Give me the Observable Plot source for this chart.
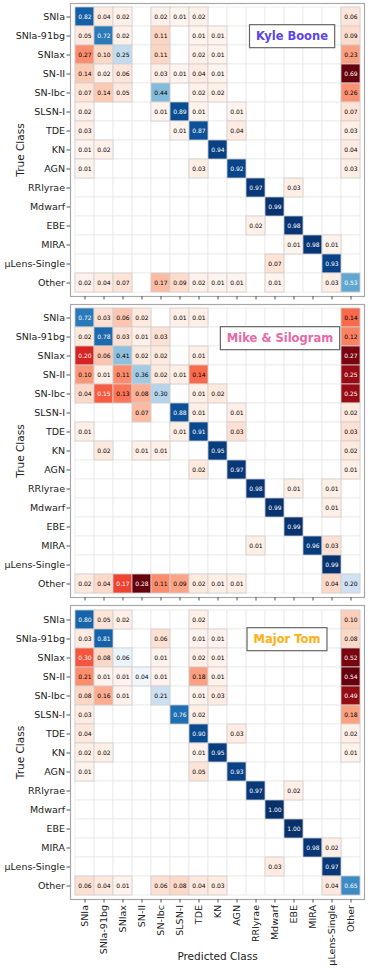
<!DOCTYPE html>
<html><head><meta charset="utf-8">
<script src="https://cdn.jsdelivr.net/npm/d3@7"></script>
<script src="https://cdn.jsdelivr.net/npm/@observablehq/plot@0.6"></script>
<style>
body{margin:0;background:#fff;font-family:"DejaVu Sans",sans-serif;}
#chart svg{display:block;}
</style></head><body><div id="chart"></div>
<script>
const classes = ["SNIa","SNIa-91bg","SNIax","SN-II","SN-Ibc","SLSN-I","TDE","KN","AGN","RRlyrae","Mdwarf","EBE","MIRA","\u03bcLens-Single","Other"];

// rows = true class, columns = predicted class (0 = empty cell)
const kyleBooneValues = [
  [0.82,0.04,0.02,0,0.02,0.01,0.02,0,0,0,0,0,0,0,0.06],
  [0.05,0.72,0.02,0,0.11,0,0.01,0.01,0,0,0,0,0,0,0.09],
  [0.27,0.10,0.25,0,0.11,0,0.02,0.01,0,0,0,0,0,0,0.23],
  [0.14,0.02,0.06,0,0.03,0.01,0.04,0.01,0,0,0,0,0,0,0.69],
  [0.07,0.14,0.05,0,0.44,0,0.02,0.02,0,0,0,0,0,0,0.26],
  [0.02,0,0,0,0.01,0.89,0.01,0,0.01,0,0,0,0,0,0.07],
  [0.03,0,0,0,0,0.01,0.87,0,0.04,0,0,0,0,0,0.03],
  [0.01,0.02,0,0,0,0,0,0.94,0,0,0,0,0,0,0.04],
  [0.01,0,0,0,0,0,0.03,0,0.92,0,0,0,0,0,0.03],
  [0,0,0,0,0,0,0,0,0,0.97,0,0.03,0,0,0],
  [0,0,0,0,0,0,0,0,0,0,0.99,0,0,0,0],
  [0,0,0,0,0,0,0,0,0,0.02,0,0.98,0,0,0],
  [0,0,0,0,0,0,0,0,0,0,0,0.01,0.98,0.01,0],
  [0,0,0,0,0,0,0,0,0,0,0.07,0,0,0.93,0],
  [0.02,0.04,0.07,0,0.17,0.09,0.02,0.01,0.01,0,0.01,0,0,0.03,0.53]
];
const mikeSilogramValues = [
  [0.72,0.03,0.06,0.02,0,0.01,0.01,0,0,0,0,0,0,0,0.14],
  [0.02,0.78,0.03,0.01,0.03,0,0,0,0,0,0,0,0,0,0.12],
  [0.20,0.06,0.41,0.02,0.02,0,0.01,0,0,0,0,0,0,0,0.27],
  [0.10,0.01,0.11,0.36,0.02,0.01,0.14,0,0,0,0,0,0,0,0.25],
  [0.04,0.15,0.13,0.08,0.30,0,0.01,0.02,0,0,0,0,0,0,0.25],
  [0,0,0,0.07,0,0.88,0.01,0,0.01,0,0,0,0,0,0.02],
  [0.01,0,0,0,0,0.01,0.91,0,0.03,0,0,0,0,0,0.03],
  [0,0.02,0,0.01,0.01,0,0,0.95,0,0,0,0,0,0,0.02],
  [0,0,0,0,0,0,0.02,0,0.97,0,0,0,0,0,0.01],
  [0,0,0,0,0,0,0,0,0,0.98,0,0.01,0,0.01,0],
  [0,0,0,0,0,0,0,0,0,0,0.99,0,0,0.01,0],
  [0,0,0,0,0,0,0,0,0,0,0,0.99,0,0,0],
  [0,0,0,0,0,0,0,0,0,0.01,0,0,0.96,0.03,0],
  [0,0,0,0,0,0,0,0,0,0,0,0,0,0.99,0],
  [0.02,0.04,0.17,0.28,0.11,0.09,0.02,0.01,0.01,0,0,0,0,0.04,0.20]
];
const majorTomValues = [
  [0.80,0.05,0.02,0,0,0,0.02,0,0,0,0,0,0,0,0.10],
  [0.03,0.81,0,0,0.06,0,0.01,0.01,0,0,0,0,0,0,0.08],
  [0.30,0.08,0.06,0,0.01,0,0.02,0.01,0,0,0,0,0,0,0.52],
  [0.21,0.01,0.01,0.04,0.01,0,0.18,0.01,0,0,0,0,0,0,0.54],
  [0.08,0.16,0.01,0,0.21,0,0.01,0.03,0,0,0,0,0,0,0.49],
  [0.03,0,0,0,0,0.76,0.02,0,0,0,0,0,0,0,0.18],
  [0.04,0,0,0,0,0,0.90,0,0.03,0,0,0,0,0,0.02],
  [0.02,0.02,0,0,0,0,0.01,0.95,0,0,0,0,0,0,0.01],
  [0.01,0,0,0,0,0,0.05,0,0.93,0,0,0,0,0,0],
  [0,0,0,0,0,0,0,0,0,0.97,0,0.02,0,0,0],
  [0,0,0,0,0,0,0,0,0,0,1.00,0,0,0,0],
  [0,0,0,0,0,0,0,0,0,0,0,1.00,0,0,0],
  [0,0,0,0,0,0,0,0,0,0,0,0,0.98,0.02,0],
  [0,0,0,0,0,0,0,0,0,0,0.03,0,0,0.97,0],
  [0.06,0.04,0.01,0,0.06,0.08,0.04,0.03,0,0,0,0,0,0.04,0.65]
];

const panelNames = ["Kyle Boone","Mike & Silogram","Major Tom"];
const panelNameColors = ["#5b44e8","#ea68a6","#ffb00f"];
const panelMatrices = [kyleBooneValues, mikeSilogramValues, majorTomValues];

function buildCells(matrix){
  let maxOff = 0;
  matrix.forEach((row,i)=>row.forEach((v,j)=>{ if(i!==j && v>maxOff) maxOff=v; }));
  const all = [];
  matrix.forEach((row,i)=>row.forEach((v,j)=>{
    const norm = i===j ? v : v/maxOff;
    all.push({true: classes[i], pred: classes[j], v,
      color: i===j ? d3.interpolateBlues(norm) : d3.interpolateReds(norm),
      textColor: norm > 0.5 ? "white" : "black"});
  }));
  return all;
}

const chart = document.getElementById("chart");
const font = "DejaVu Sans";

panelMatrices.forEach((matrix,k)=>{
  const last = k === panelMatrices.length-1;
  const all = buildCells(matrix);
  const nz = all.filter(d=>d.v>0);
  const svg = Plot.plot({
    width: 374,
    height: last ? 368 : 301,
    marginTop: 3,
    marginLeft: 70,
    marginRight: 10,
    marginBottom: last ? 71 : 5,
    style: {fontFamily: font, fontSize: "9.5px", color: "#222", background: "white"},
    x: {domain: classes, padding: 0},
    y: {domain: classes, padding: 0},
    color: {type: "identity"},
    marks: [
      Plot.cell(all, {x: "pred", y: "true", fill: "white", stroke: "#e8e8e8", strokeWidth: 0.8}),
      Plot.cell(nz, {x: "pred", y: "true", fill: "color", stroke: "#cfcfcf", strokeWidth: 0.8}),
      Plot.text(nz, {x: "pred", y: "true", text: d=>d.v.toFixed(2), fill: "textColor", fontSize: 6}),
      Plot.frame({stroke: "#a8a8a8", strokeWidth: 1.2}),
      Plot.axisY({tickSize: 3.5, tickPadding: 2, stroke: "#555", fontSize: 9.5, label: null}),
      Plot.axisY({tickSize: 0, tickFormat: () => "", fontSize: 10.5, label: "True Class", labelAnchor: "center", labelOffset: 54}),
      last
        ? Plot.axisX({tickSize: 3.5, tickPadding: 2, stroke: "#555", tickRotate: -90, fontSize: 9.5, label: null})
        : Plot.axisX({tickSize: 3.5, stroke: "#555", tickFormat: () => "", label: null}),
      last
        ? Plot.axisX({tickSize: 0, tickFormat: () => "", fontSize: 10.5, label: "Predicted Class", labelAnchor: "center", labelOffset: 60})
        : null,
      Plot.text([panelNames[k]], {x: () => "EBE", y: () => "SNIa-91bg", text: d=>d,
        dx: [-2, -14, -7][k], dy: [0.5, 1.5, 0.5][k],
        fill: panelNameColors[k], fontSize: 11.5, fontWeight: "bold", ariaLabel: () => "panel-name"})
    ]
  });
  chart.appendChild(svg);
  let t = svg.querySelector('[aria-label="panel-name"]');
  if (t && t.tagName.toLowerCase() !== "text") t = t.querySelector("text");
  if (t) {
    const b = t.getBBox();
    const r = document.createElementNS("http://www.w3.org/2000/svg","rect");
    const px = 6.5, py = 4.5;
    r.setAttribute("x", b.x - px); r.setAttribute("y", b.y - py);
    r.setAttribute("width", b.width + 2*px); r.setAttribute("height", b.height + 2*py);
    r.setAttribute("fill", "white"); r.setAttribute("stroke", "#666"); r.setAttribute("stroke-width", "1.2");
    const ctm = t.getAttribute("transform");
    if (ctm) r.setAttribute("transform", ctm);
    t.parentNode.insertBefore(r, t);
  }
});
</script></body></html>
